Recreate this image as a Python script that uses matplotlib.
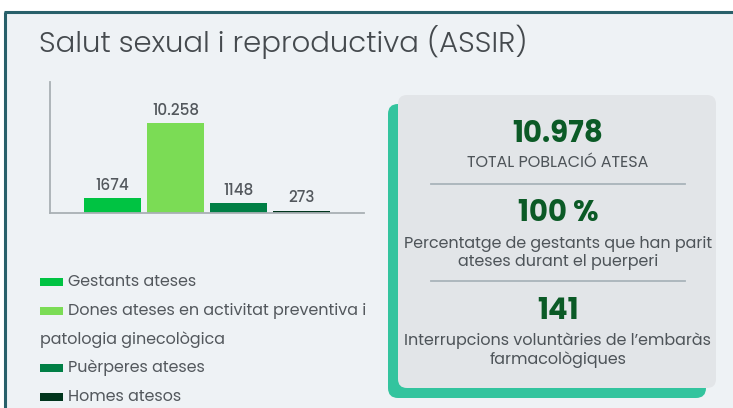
import matplotlib
matplotlib.use("Agg")
import matplotlib.pyplot as plt
from matplotlib.patches import Rectangle, FancyBboxPatch
from matplotlib import font_manager

# dades del gràfic
categories = ["Gestants ateses",
              "Dones ateses en activitat preventiva i\npatologia ginecològica",
              "Puèrperes ateses",
              "Homes atesos"]
values = [1674, 10258, 1148, 273]
value_labels = ["1674", "10.258", "1148", "273"]
bar_colors = ["#00c342", "#7bdc55", "#007f45", "#00351c"]

kpi_values = ["10.978", "100 %", "141"]
kpi_texts = ["TOTAL POBLACIÓ ATESA",
             "Percentatge de gestants que han parit\nateses durant el puerperi",
             "Interrupcions voluntàries de l’embaràs\nfarmacològiques"]

title = "Salut sexual i reproductiva (ASSIR)"

names = {f.name for f in font_manager.fontManager.ttflist}
font = "Poppins" if "Poppins" in names else "Open Sans"
plt.rcParams["font.family"] = [font, "DejaVu Sans"]

W, H = 733, 408
fig = plt.figure(figsize=(W / 100, H / 100), dpi=100, facecolor="white")

# fons i marcs en coordenades de píxel
bg = fig.add_axes([0, 0, 1, 1], zorder=0)
bg.set_xlim(0, W)
bg.set_ylim(H, 0)
bg.axis("off")
bg.add_patch(Rectangle((4, 12), W, H, facecolor="#eef2f5", edgecolor="none"))
bg.plot([4, W], [12, 12], color="#28606a", lw=2.2, solid_capstyle="butt")
bg.plot([4.5, 4.5], [12, H], color="#28606a", lw=2.2, solid_capstyle="butt")

bg.text(39, 52, title, fontsize=21, color="#454a4e", fontweight=300,
        ha="left", va="baseline")

# caixa de KPIs
bg.add_patch(FancyBboxPatch((388, 104), 318, 294, boxstyle="round,pad=0,rounding_size=10",
                            facecolor="#33c49e", edgecolor="none"))
bg.add_patch(FancyBboxPatch((398, 95), 318, 293, boxstyle="round,pad=0,rounding_size=9",
                            facecolor="#e2e5e8", edgecolor="none"))

cx = 558
num_y = [135, 214, 312]
txt_y = [163, 253, 350]
for v, t, ny, ty in zip(kpi_values, kpi_texts, num_y, txt_y):
    bg.text(cx, ny, v, fontsize=21, fontweight="bold", color="#0b5a26",
            ha="center", va="center")
    bg.text(cx, ty, t, fontsize=11.5, color="#4e5459", ha="center", va="center",
            linespacing=1.15)
for sy in [184, 281]:
    bg.plot([431, 685], [sy, sy], color="#a9b4ba", lw=1.3)

# llegenda
row = 28.7
y = 282
for c, col in zip(categories, bar_colors):
    bg.add_patch(Rectangle((40, y - 4), 23, 8, facecolor=col, edgecolor="none"))
    parts = c.split("\n")
    bg.text(68, y, parts[0], fontsize=11.5, color="#53585d", ha="left", va="center")
    for p in parts[1:]:
        y += row
        bg.text(40, y, p, fontsize=11.5, color="#53585d", ha="left", va="center")
    y += row

# gràfic de barres
ax = fig.add_axes([50 / W, (H - 213) / H, 314 / W, 131 / H], zorder=1)
ax.patch.set_alpha(0)
x = range(len(values))
bars = ax.bar(x, values, width=0.905, color=bar_colors)
ax.set_xlim(-0.99, 3.99)
ax.set_ylim(0, 14930)
for b, lab in zip(bars, value_labels):
    ax.annotate(lab, (b.get_x() + b.get_width() / 2, b.get_height()),
                xytext=(0, 3), textcoords="offset points", ha="center", va="bottom",
                fontsize=11, fontweight=500, color="#53585d")
for s in ["top", "right"]:
    ax.spines[s].set_visible(False)
ax.spines["left"].set_color("#a9b0b4")
ax.spines["bottom"].set_color("#a9b0b4")
ax.spines["left"].set_linewidth(1.3)
ax.spines["bottom"].set_linewidth(1.3)
ax.set_xticks([])
ax.set_yticks([])

fig.savefig("out.png", dpi=100, facecolor="white")
